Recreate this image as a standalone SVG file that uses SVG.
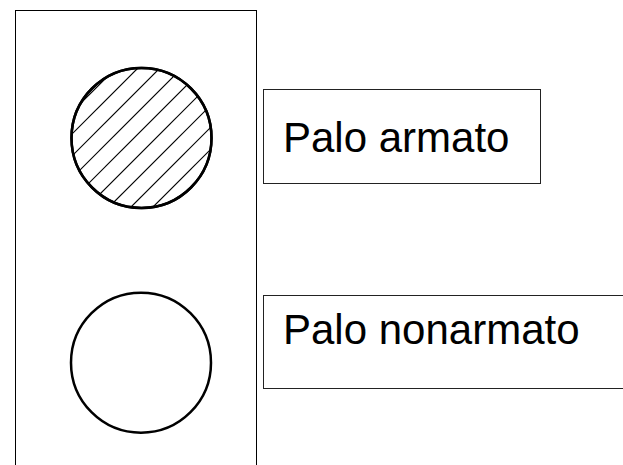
<svg xmlns="http://www.w3.org/2000/svg" width="623" height="465" viewBox="0 0 623 465">
<style>
.frame{fill:#fff;stroke:#000;stroke-width:1}
.pile{fill:#fff;stroke:#000;stroke-width:2.5}
.hatch{stroke:#000;stroke-width:1.2}
.label{fill:#fff;stroke:#222;stroke-width:1}
.txt{font-family:"Liberation Sans",Arial,sans-serif;font-size:42px;fill:#000}
</style>
<defs>
<clipPath id="clipA"><circle cx="141.5" cy="138" r="70"/></clipPath>
</defs>
<rect x="0" y="0" width="623" height="465" fill="#fff"/>
<g id="frame"><rect class="frame" x="15.5" y="10.5" width="241" height="470"/></g>
<g id="pile-armato">
<circle class="pile" cx="141.5" cy="138" r="70"/>
<g clip-path="url(#clipA)" class="hatch">
<line x1="40" y1="144" x2="240" y2="-56"/>
<line x1="40" y1="166" x2="240" y2="-34"/>
<line x1="40" y1="188" x2="240" y2="-12"/>
<line x1="40" y1="210" x2="240" y2="10"/>
<line x1="40" y1="232" x2="240" y2="32"/>
<line x1="40" y1="254" x2="240" y2="54"/>
<line x1="40" y1="276" x2="240" y2="76"/>
<line x1="40" y1="298" x2="240" y2="98"/>
<line x1="40" y1="320" x2="240" y2="120"/>
</g>
<circle cx="141.5" cy="138" r="70" fill="none" stroke="#000" stroke-width="2.5"/>
</g>
<g id="pile-nonarmato"><circle class="pile" cx="141" cy="362.7" r="70"/></g>
<g id="label-armato">
<rect class="label" x="263.5" y="89.5" width="277" height="94"/>
<text class="txt" x="283" y="152">Palo armato</text>
</g>
<g id="label-nonarmato">
<rect class="label" x="263.5" y="295.5" width="365" height="93"/>
<text class="txt" x="283" y="344">Palo nonarmato</text>
</g>
<g id="connectors"/>
</svg>
